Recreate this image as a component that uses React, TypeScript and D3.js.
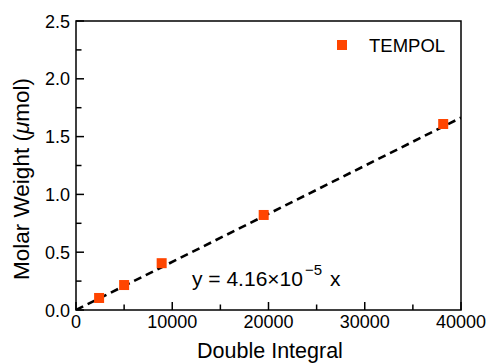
import React from "react";
import * as d3 from "d3";

const xValues = [2400, 5000, 8900, 19500, 38150];
const yValues = [0.104, 0.216, 0.405, 0.822, 1.609];
const slope = 4.16e-5;
const xTicks = [0, 10000, 20000, 30000, 40000];
const xMinorTicks = [5000, 15000, 25000, 35000];
const yTicks = [0, 0.5, 1.0, 1.5, 2.0, 2.5];
const yMinorTicks = [0.25, 0.75, 1.25, 1.75, 2.25];
const seriesName = "TEMPOL";

const W = 488, H = 363;
const L = 76, R = 461, T = 21, B = 310;
const color = "#FF4500";
const font = "'Liberation Sans', Arial, Helvetica, sans-serif";

export default function App() {
  const x = d3.scaleLinear().domain([0, 40000]).range([L, R]);
  const y = d3.scaleLinear().domain([0, 2.5]).range([B, T]);
  const line = d3.line<number>().x(d => x(d)).y(d => y(slope * d));
  const ms = 10;
  return (
    <svg width={W} height={H} style={{ position: "absolute", left: 0, top: 0, background: "#fff" }} fontFamily={font}>
      <defs>
        <clipPath id="plot"><rect x={L} y={T} width={R - L} height={B - T} /></clipPath>
      </defs>
      <path d={line([0, 40000]) || ""} stroke="#000" strokeWidth={2.6} strokeDasharray="8,5" fill="none" clipPath="url(#plot)" />
      {xValues.map((v, i) => (
        <rect key={i} x={x(v) - ms / 2} y={y(yValues[i]) - ms / 2} width={ms} height={ms} fill={color} />
      ))}
      <rect x={L} y={T} width={R - L} height={B - T} fill="none" stroke="#000" strokeWidth={1.5} />
      {xTicks.map(t => (
        <g key={"x" + t}>
          <line x1={x(t)} x2={x(t)} y1={B} y2={B - 8} stroke="#000" strokeWidth={1.5} />
          <text x={x(t)} y={328} textAnchor="middle" fontSize={18}>{t}</text>
        </g>
      ))}
      {xMinorTicks.map(t => (
        <line key={"xm" + t} x1={x(t)} x2={x(t)} y1={B} y2={B - 5.5} stroke="#000" strokeWidth={1.5} />
      ))}
      {yTicks.map(t => (
        <g key={"y" + t}>
          <line x1={L} x2={L + 8} y1={y(t)} y2={y(t)} stroke="#000" strokeWidth={1.5} />
          <text x={70} y={y(t) + 6.5} textAnchor="end" fontSize={18}>{t.toFixed(1)}</text>
        </g>
      ))}
      {yMinorTicks.map(t => (
        <line key={"ym" + t} x1={L} x2={L + 5.5} y1={y(t)} y2={y(t)} stroke="#000" strokeWidth={1.5} />
      ))}
      <text x={270} y={358} textAnchor="middle" fontSize={21.5}>Double Integral</text>
      <text transform={`translate(29, 179) rotate(-90)`} textAnchor="middle" fontSize={22.5}>
        Molar Weight (<tspan fontStyle="italic">μ</tspan>mol)
      </text>
      <rect x={342 - ms / 2} y={45 - ms / 2} width={ms} height={ms} fill={color} />
      <text x={369} y={52} fontSize={18.5}>{seriesName}</text>
      <text x={192} y={286} fontSize={21}>
        y = 4.16×10<tspan dx={2} dy={-11} fontSize={15}>−5</tspan><tspan dx={2} dy={11}> x</tspan>
      </text>
    </svg>
  );
}
